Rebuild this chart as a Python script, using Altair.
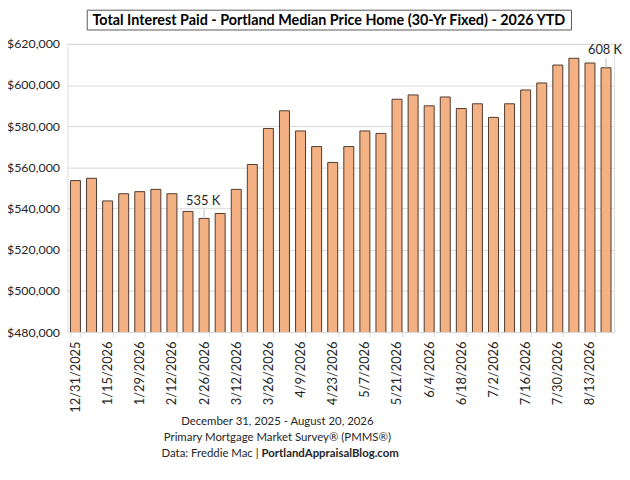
import altair as alt
import pandas as pd

dates = [
    "12/31/2025", "1/8/2026", "1/15/2026", "1/22/2026", "1/29/2026", "2/5/2026",
    "2/12/2026", "2/19/2026", "2/26/2026", "3/5/2026", "3/12/2026", "3/19/2026",
    "3/26/2026", "4/2/2026", "4/9/2026", "4/16/2026", "4/23/2026", "4/30/2026",
    "5/7/2026", "5/14/2026", "5/21/2026", "5/28/2026", "6/4/2026", "6/11/2026",
    "6/18/2026", "6/25/2026", "7/2/2026", "7/9/2026", "7/16/2026", "7/23/2026",
    "7/30/2026", "8/6/2026", "8/13/2026", "8/20/2026",
]
interest = [
    553600, 554700, 543700, 547200, 548200, 549300,
    547200, 538600, 535200, 537600, 549300, 561400,
    578900, 587500, 577700, 570100, 562400, 570100,
    577700, 576500, 593100, 595200, 589900, 594200,
    588600, 590900, 584300, 590900, 597600, 601000,
    609700, 613000, 610700, 608400,
]
callouts = {"2/26/2026": "535 K", "8/20/2026": "608 K"}
y_ticks = [480000, 500000, 520000, 540000, 560000, 580000, 600000, 620000]

title_text = "Total Interest Paid - Portland Median Price Home (30-Yr Fixed) - 2026 YTD"
footer_date = "December 31, 2025 - August 20, 2026"
footer_survey = "Primary Mortgage Market Survey® (PMMS®)"
source_plain = "Data: Freddie Mac |"
source_bold = "PortlandAppraisalBlog.com"

FONT = "Lato"
INK = "#262626"
W, H = 552, 291

df = pd.DataFrame({"date": dates, "interest": interest})
df["note"] = df["date"].map(callouts).fillna("")

base = alt.Chart(df)

x = alt.X(
    "date:N", sort=dates, title=None,
    scale=alt.Scale(paddingInner=0.38, paddingOuter=0.19),
    axis=alt.Axis(values=dates[::2], labelAngle=-90, labelFontSize=13,
                  labelColor=INK, labelFont=FONT, domainColor="#d9d9d9",
                  tickColor="#d9d9d9", tickBand="extent", tickSize=5,
                  labelPadding=4),
)
y = alt.Y(
    "interest:Q", title=None,
    scale=alt.Scale(domain=[y_ticks[0], y_ticks[-1]], nice=False, zero=False),
    axis=alt.Axis(values=y_ticks, labelExpr="'$' + format(datum.value, ',d')",
                  labelFontSize=12.5, labelColor=INK, labelFont=FONT, domain=False,
                  ticks=False, labelPadding=8, gridColor="#d9d9d9"),
)

bars = base.mark_bar(fill="#F4B183", stroke="#4d3b30", strokeWidth=1, clip=True).encode(
    x=x, y=y
)

noted = base.transform_filter("datum.note != ''")
leaders = noted.transform_calculate(top="datum.interest + 4500").mark_rule(
    color="#bfbfbf", strokeWidth=1
).encode(x=alt.X("date:N", sort=dates), y="interest:Q", y2="top:Q")
notes = noted.mark_text(
    dy=-14, dx=-1, baseline="alphabetic", fontSize=13, font=FONT, color=INK
).encode(x=alt.X("date:N", sort=dates), y="interest:Q", text="note:N")

texts = alt.Chart(pd.DataFrame({
    "title": [title_text], "d": [footer_date], "s": [footer_survey],
    "a": [source_plain], "b": [source_bold],
}))
box = texts.mark_rect(fill="white", stroke="#595959", strokeWidth=1).encode(
    x=alt.value(20), x2=alt.value(509), y=alt.value(-34), y2=alt.value(-14)
)
title = texts.mark_text(fontSize=14.5, fontWeight="bold", font=FONT, color="black",
                        baseline="alphabetic").encode(
    x=alt.value(264), y=alt.value(-19), text="title:N"
)
foot = dict(fontSize=11.5, font=FONT, color=INK, baseline="alphabetic")
line1 = texts.mark_text(**foot).encode(x=alt.value(212), y=alt.value(385), text="d:N")
line2 = texts.mark_text(**foot).encode(x=alt.value(212), y=alt.value(401), text="s:N")
src_a = texts.mark_text(align="right", **foot).encode(
    x=alt.value(193), y=alt.value(417), text="a:N")
src_b = texts.mark_text(align="left", fontWeight="bold", **foot).encode(
    x=alt.value(196), y=alt.value(417), text="b:N")

chart = alt.layer(bars, leaders, notes, box, title, line1, line2, src_a, src_b).properties(
    width=W, height=H,
    autosize=alt.AutoSizeParams(type="none"),
    padding={"left": 60, "top": 34, "right": 8, "bottom": 130},
).configure_view(strokeWidth=0).configure(background="white")

chart.save("out.html", embed_options={"renderer": "svg", "actions": False})
